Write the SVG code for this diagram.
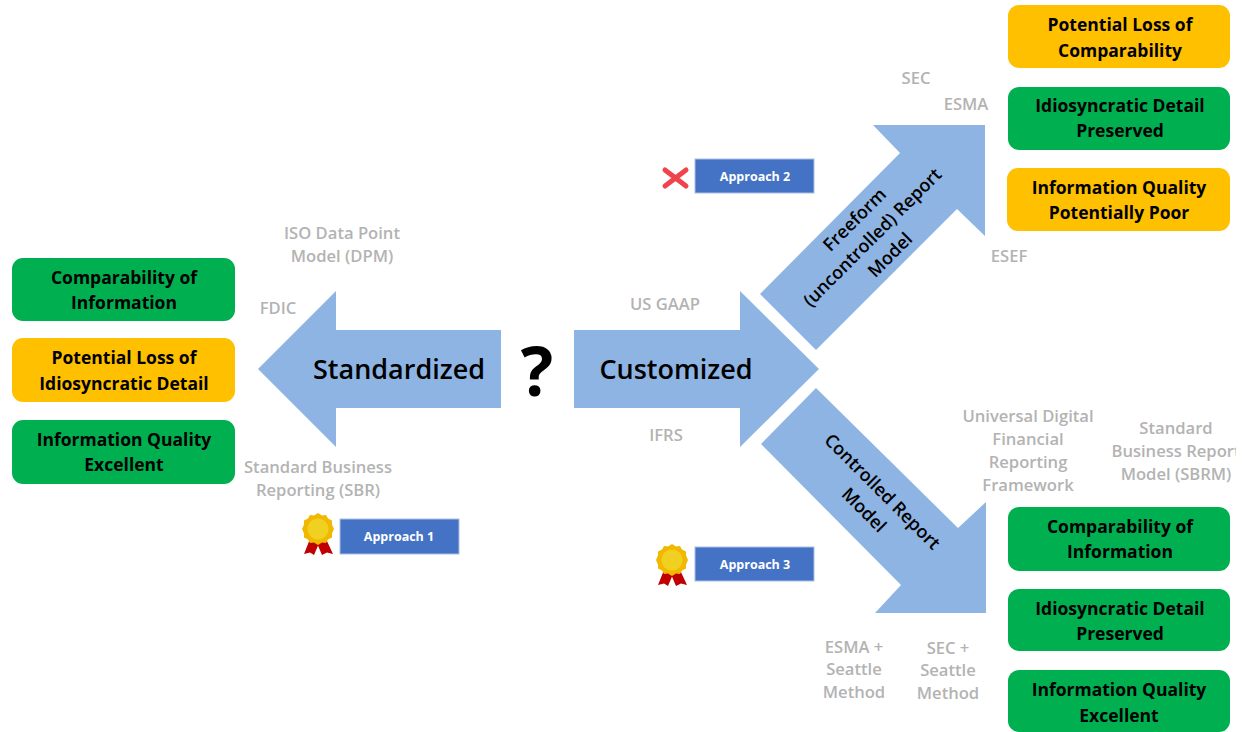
<svg xmlns="http://www.w3.org/2000/svg" width="1246" height="732" viewBox="0 0 1246 732">
<style>
text{font-family:"Open Sans","Noto Sans","DejaVu Sans",sans-serif;text-anchor:middle}
.arrow{fill:#8eb4e3}
.green{fill:#00b050}
.amber{fill:#ffc000}
.box text{font-size:17.5px;font-weight:700;fill:#000}
.grey{font-size:16.6px;font-weight:600;fill:#b3b3b3}
.big{font-size:27px;font-weight:600;fill:#000}
.mid{font-size:18px;font-weight:600;fill:#000}
.btn{fill:#4472c4;stroke:#a9bfe4;stroke-width:1}
.btn-t{font-size:12.5px;font-weight:700;fill:#fff}
.cross{stroke:#f0444c;stroke-width:5;stroke-linecap:round;fill:none}
</style>
<defs>
<clipPath id="page"><rect x="0" y="0" width="1236" height="732"/></clipPath>
<g id="medal">
<path d="M-8 10L-14 25L-8 23.500L-4 26L2 12Z" fill="#c00000"/>
<path d="M8 10L15 25L9 23.500L4 26L-2 12Z" fill="#c00000"/>
<polygon points="0,-16 4,-13.5 8,-14 10,-10.500 14,-8.500 14,-4.500 16,0 14,4.500 14,8.500 10,10.500 8,14 4,13.500 0,16 -4,13.500 -8,14 -10,10.500 -14,8.500 -14,4.500 -16,0 -14,-4.500 -14,-8.500 -10,-10.500 -8,-14 -4,-13.500" fill="#f2b800"/>
<circle r="10.500" fill="#f0d020"/>
</g>
</defs>
<g id="connectors">
<polygon id="arrow-standardized" class="arrow" points="258,369 336,291 336,330 501,330 501,408 336,408 336,447"/>
<polygon id="arrow-customized" class="arrow" points="574,330 740,330 740,291 819,369 740,447 740,408 574,408"/>
<polygon id="arrow-freeform" class="arrow" points="760,294 900,153 873,125 985,125 985,236 957,209 816,350"/>
<polygon id="arrow-controlled" class="arrow" points="816,388 958,528 986,502 986,613 875,613 901,585 761,444"/>
</g>
<g id="arrow-labels">
<text class="big" x="399" y="379">Standardized</text>
<text class="big" x="676" y="379">Customized</text>
<text x="537" y="396" style="font-size:68px;font-weight:700;fill:#000">?</text>
<g transform="translate(859,224) rotate(-45)">
<text class="mid" y="0">Freeform</text>
<text class="mid" y="25">(uncontrolled) Report</text>
<text class="mid" y="50">Model</text>
</g>
<g transform="translate(878,496) rotate(45)">
<text class="mid" y="0">Controlled Report</text>
<text class="mid" y="26">Model</text>
</g>
</g>
<g id="node-left-1" class="box"><rect class="green" x="12" y="258" width="223" height="63" rx="11"/><text x="124" y="284">Comparability of</text><text x="124" y="309">Information</text></g>
<g id="node-left-2" class="box"><rect class="amber" x="12" y="338" width="223" height="64" rx="11"/><text x="124" y="364">Potential Loss of</text><text x="124" y="390">Idiosyncratic Detail</text></g>
<g id="node-left-3" class="box"><rect class="green" x="12" y="420" width="223" height="64" rx="11"/><text x="124" y="446">Information Quality</text><text x="124" y="471">Excellent</text></g>
<g id="node-top-1" class="box"><rect class="amber" x="1008" y="5" width="222" height="63" rx="11"/><text x="1120" y="31">Potential Loss of</text><text x="1120" y="57">Comparability</text></g>
<g id="node-top-2" class="box"><rect class="green" x="1008" y="87" width="222" height="63" rx="11"/><text x="1120" y="112">Idiosyncratic Detail</text><text x="1120" y="137">Preserved</text></g>
<g id="node-top-3" class="box"><rect class="amber" x="1007" y="168" width="223" height="63" rx="11"/><text x="1119" y="194">Information Quality</text><text x="1119" y="219">Potentially Poor</text></g>
<g id="node-bottom-1" class="box"><rect class="green" x="1008" y="507" width="222" height="64" rx="11"/><text x="1120" y="533">Comparability of</text><text x="1120" y="558">Information</text></g>
<g id="node-bottom-2" class="box"><rect class="green" x="1008" y="589" width="222" height="62" rx="11"/><text x="1120" y="615">Idiosyncratic Detail</text><text x="1120" y="640">Preserved</text></g>
<g id="node-bottom-3" class="box"><rect class="green" x="1008" y="670" width="222" height="62" rx="11"/><text x="1119" y="696">Information Quality</text><text x="1119" y="722">Excellent</text></g>
<g id="grey-labels">
<text class="grey" x="342" y="239">ISO Data Point</text><text class="grey" x="342" y="262">Model (DPM)</text>
<text class="grey" x="278" y="314">FDIC</text>
<text class="grey" x="318" y="473">Standard Business</text><text class="grey" x="318" y="496">Reporting (SBR)</text>
<text class="grey" x="665" y="310">US GAAP</text>
<text class="grey" x="666" y="441">IFRS</text>
<text class="grey" x="916" y="84">SEC</text>
<text class="grey" x="966" y="110">ESMA</text>
<text class="grey" x="1009" y="262">ESEF</text>
<text class="grey" x="1028" y="422">Universal Digital</text><text class="grey" x="1028" y="445">Financial</text><text class="grey" x="1028" y="468">Reporting</text><text class="grey" x="1028" y="491">Framework</text>
<text class="grey" x="1176" y="434">Standard</text><text class="grey" x="1176" y="457" clip-path="url(#page)">Business Report</text><text class="grey" x="1176" y="480">Model (SBRM)</text>
<text class="grey" x="854" y="653">ESMA +</text><text class="grey" x="854" y="675">Seattle</text><text class="grey" x="854" y="698">Method</text>
<text class="grey" x="948" y="654">SEC +</text><text class="grey" x="948" y="676">Seattle</text><text class="grey" x="948" y="699">Method</text>
</g>
<g id="approach-1"><use href="#medal" x="318" y="529"/><rect class="btn" x="340" y="519" width="119" height="35"/><text class="btn-t" x="399" y="541">Approach 1</text></g>
<g id="approach-2"><path class="cross" d="M665 170L686 186M686 170L665 186"/><rect class="btn" x="695" y="159" width="119" height="34"/><text class="btn-t" x="755" y="181">Approach 2</text></g>
<g id="approach-3"><use href="#medal" x="672" y="560"/><rect class="btn" x="695" y="547" width="119" height="34"/><text class="btn-t" x="755" y="569">Approach 3</text></g>
</svg>
